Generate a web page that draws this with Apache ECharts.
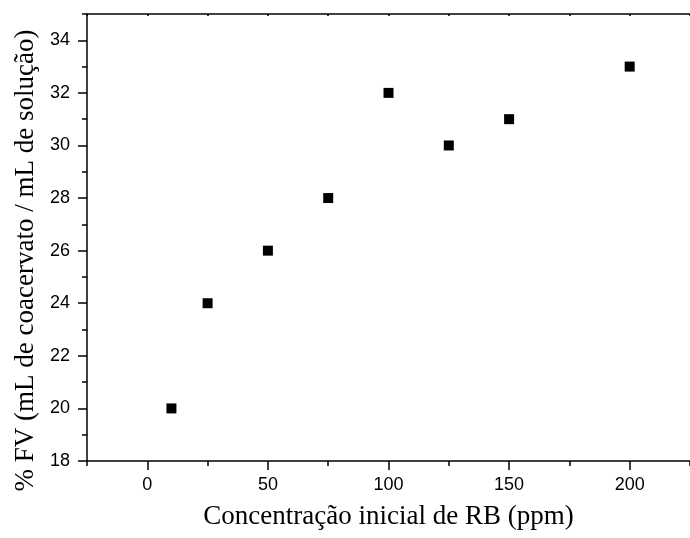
<!DOCTYPE html>
<html>
<head>
<meta charset="utf-8">
<script src="https://cdn.jsdelivr.net/npm/echarts@6/dist/echarts.min.js"></script>
<style>
  html, body { margin: 0; padding: 0; background: #fff; }
  #chart { width: 690px; height: 538px; }
</style>
</head>
<body>
<div id="chart"></div>
<script>
// data
const conc = [10, 25, 50, 75, 100, 125, 150, 200];
const fv = [20, 24, 26, 28, 32, 30, 31, 33];

const xMajor = [0, 50, 100, 150, 200];
const xMinor = [-25, 25, 75, 125, 175, 225];
const yMajor = [18, 20, 22, 24, 26, 28, 30, 32, 34];
const yMinor = [19, 21, 23, 25, 27, 29, 31, 33, 35];

const xTitle = 'Concentração inicial de RB (ppm)';
const yTitle = '% FV (mL de coacervato / mL de solução)';

const chart = echarts.init(document.getElementById('chart'));
const lineStyle = { color: '#000', width: 1.5 };
const labelFont = { color: '#000', fontFamily: 'Liberation Sans', fontSize: 18 };
const nameFont = { color: '#000', fontFamily: 'Liberation Serif', fontSize: 27 };

chart.setOption({
    animation: false,
    grid: { left: 87, top: 14, right: -9, bottom: 77 },
    xAxis: [
        {
            type: 'value', position: 'bottom', min: -25, max: 225,
            splitLine: { show: false },
            axisLine: { show: true, onZero: false, lineStyle },
            axisTick: { show: true, length: 9, customValues: xMajor, lineStyle },
            axisLabel: { ...labelFont, margin: 15, customValues: xMajor },
            name: xTitle, nameLocation: 'middle', nameGap: 42, nameTextStyle: nameFont
        },
        {
            type: 'value', position: 'bottom', min: -25, max: 225,
            splitLine: { show: false },
            axisLine: { show: false, onZero: false },
            axisTick: { show: true, length: 5, customValues: xMinor, lineStyle },
            axisLabel: { show: false }
        },
        {
            type: 'value', position: 'top', min: -25, max: 225,
            splitLine: { show: false },
            axisLine: { show: true, onZero: false, lineStyle },
            axisTick: { show: true, inside: true, length: 2, customValues: xMajor.concat(xMinor), lineStyle },
            axisLabel: { show: false }
        }
    ],
    yAxis: [
        {
            type: 'value', position: 'left', min: 18, max: 35,
            splitLine: { show: false },
            axisLine: { show: true, onZero: false, lineStyle },
            axisTick: { show: true, length: 9, customValues: yMajor, lineStyle },
            axisLabel: { ...labelFont, margin: 17, customValues: yMajor },
            name: yTitle, nameLocation: 'middle', nameGap: 48,
            nameTextStyle: { ...nameFont, padding: [0, 46, 0, 0] }
        },
        {
            type: 'value', position: 'left', min: 18, max: 35,
            splitLine: { show: false },
            axisLine: { show: false, onZero: false },
            axisTick: { show: true, length: 5, customValues: yMinor, lineStyle },
            axisLabel: { show: false }
        }
    ],
    series: [{
        type: 'scatter',
        xAxisIndex: 0, yAxisIndex: 0,
        symbol: 'rect', symbolSize: 10,
        itemStyle: { color: '#000', opacity: 1 },
        data: conc.map((c, i) => [c, fv[i]])
    }]
});
</script>
</body>
</html>
